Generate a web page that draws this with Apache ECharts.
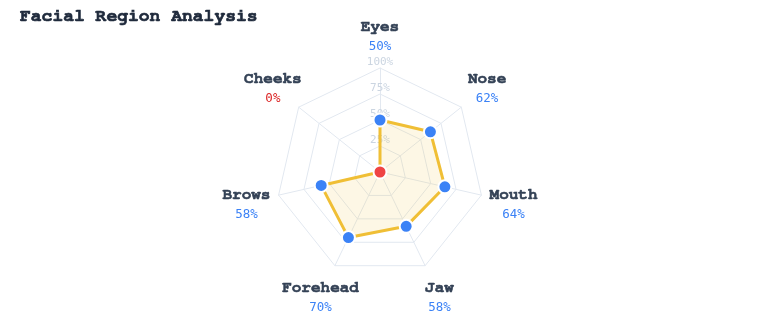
<!DOCTYPE html>
<html>
<head>
<meta charset="utf-8">
<script src="https://cdn.jsdelivr.net/npm/echarts@6/dist/echarts.min.js"></script>
<style>
  html, body { margin: 0; padding: 0; background: #fff; }
  #chart { width: 760px; height: 320px; }
</style>
</head>
<body>
<div id="chart"></div>
<script>
// facial regions, clockwise from the top
const regions = ['Eyes', 'Nose', 'Mouth', 'Jaw', 'Forehead', 'Brows', 'Cheeks'];
const scores = [50, 62, 64, 58, 70, 58, 0];
const maxScore = 100;

const BLUE = '#3b82f6';
const RED = '#ef4444';
const LINE = '#f0bf36';
const SERIF_MONO = '"Nimbus Mono PS", "Nimbus Mono L", FreeMono, Courier, "Courier New", monospace';

// radar draws counter-clockwise, so walk the regions backwards after the first
const order = [0].concat(regions.slice(1).map((_, i) => regions.length - 1 - i));

const chart = echarts.init(document.getElementById('chart'));

const center = ['50%', 172];
const radius = 104;

chart.setOption({
  animation: false,
  title: {
    text: 'Facial Region Analysis',
    left: 15,
    top: 2,
    textStyle: {
      fontFamily: SERIF_MONO,
      fontWeight: 'bold',
      fontSize: 18,
      color: '#1e293b',
      textBorderColor: '#1e293b',
      textBorderWidth: 0.7,
    },
  },
  radar: {
    center: center,
    radius: radius,
    shape: 'polygon',
    splitNumber: 4,
    startAngle: 90,
    axisNameGap: 33,
    indicator: order.map((k, i) => ({
      name: regions[k],
      min: 0,
      max: maxScore,
      axisLabel: { show: i === 0 },
    })),
    axisName: {
      align: 'center',
      verticalAlign: 'middle',
      padding: [4, 0, 0, 0],
      formatter: (name) => {
        const v = scores[regions.indexOf(name)];
        return '{n|' + name + '}\n{' + (v === 0 ? 'r' : 'v') + '|' + v + '%}';
      },
      rich: {
        n: {
          fontFamily: SERIF_MONO,
          fontWeight: 'bold',
          fontSize: 16,
          color: '#334155',
          textBorderColor: '#334155',
          textBorderWidth: 0.6,
          lineHeight: 20,
          align: 'center',
        },
        v: {
          fontFamily: 'DejaVu Sans Mono',
          fontSize: 12.5,
          color: BLUE,
          lineHeight: 21,
          align: 'center',
        },
        r: {
          fontFamily: 'DejaVu Sans Mono',
          fontSize: 12.5,
          color: '#dc2626',
          lineHeight: 21,
          align: 'center',
        },
      },
    },
    axisLabel: {
      show: false,
      showMinLabel: false,
      margin: 0,
      align: 'center',
      verticalAlign: 'bottom',
      formatter: '{value}%',
      fontFamily: 'DejaVu Sans Mono',
      fontSize: 11,
      color: '#cbd5e1',
    },
    axisLine: { lineStyle: { color: '#e2e8f0' } },
    splitLine: { lineStyle: { color: '#e2e8f0' } },
    splitArea: { show: false },
  },
  polar: { center: center, radius: radius },
  angleAxis: {
    type: 'category',
    data: regions,
    startAngle: 90,
    clockwise: true,
    boundaryGap: false,
    show: false,
  },
  radiusAxis: { min: 0, max: maxScore, show: false },
  series: [
    {
      type: 'radar',
      symbol: 'none',
      lineStyle: { color: LINE, width: 3 },
      areaStyle: { color: 'rgba(240, 190, 50, 0.18)' },
      data: [{ value: order.map((k) => scores[k]), name: 'Score' }],
    },
    {
      type: 'scatter',
      coordinateSystem: 'polar',
      symbolSize: 13,
      data: scores.map((v, i) => ({
        value: [v, i],
        itemStyle: {
          color: v === 0 ? RED : BLUE,
          borderColor: '#fff',
          borderWidth: 2,
          opacity: 1,
        },
      })),
    },
  ],
});
</script>
</body>
</html>
